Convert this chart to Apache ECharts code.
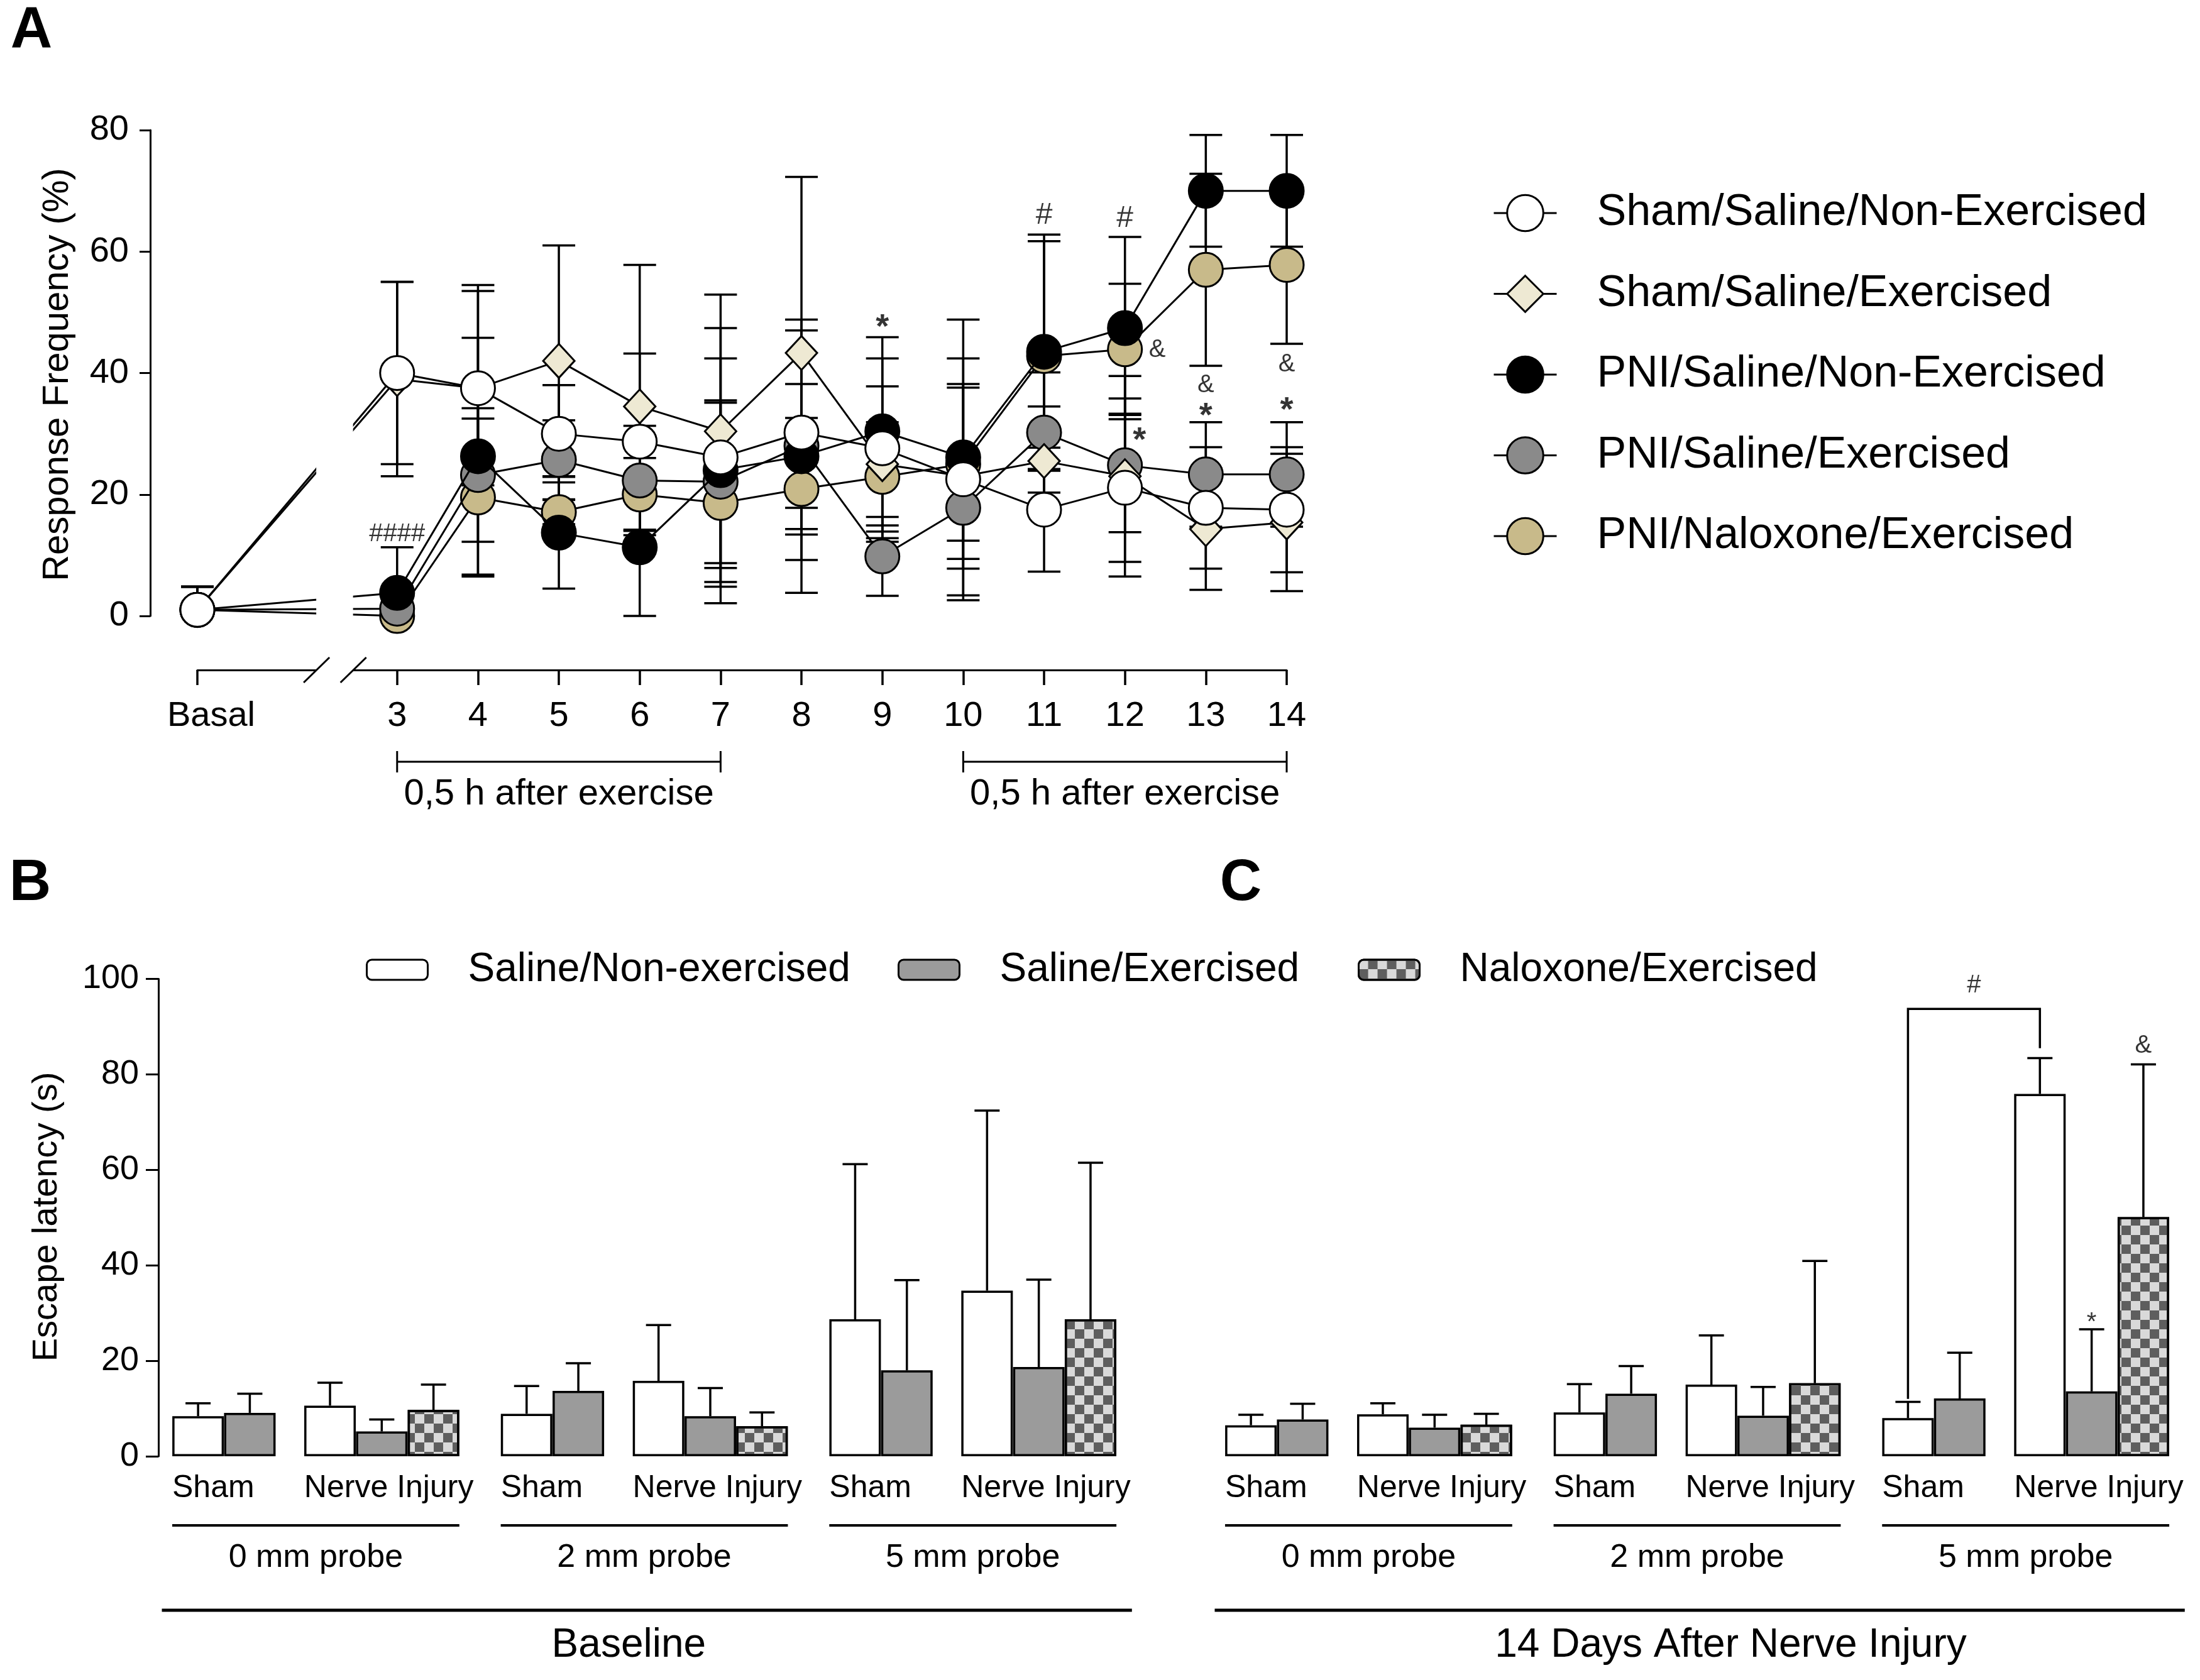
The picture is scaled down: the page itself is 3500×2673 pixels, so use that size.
<!DOCTYPE html>
<html><head><meta charset="utf-8">
<script src="https://cdn.jsdelivr.net/npm/echarts@6/dist/echarts.min.js"></script>
<style>html,body{margin:0;padding:0;background:#fff}#c{width:3500px;height:2673px}</style>
</head><body><div id="c"></div>
<script>
// ---------------- Panel A data ----------------
const dayLabels = ['Basal','3','4','5','6','7','8','9','10','11','12','13','14'];
const shamSalNonExMean = [1,40,37.5,30,28.7,26.1,30.2,27.6,22.5,17.5,21.1,17.8,17.5];
const shamSalNonExErr  = [3.8,15,17,8,14.5,21.3,16.8,14.8,19.9,10.2,12.2,10,10.3];
const shamSalExMean    = [1,39,37.5,42,34.5,30.4,43.3,25,23,25.5,23,14.3,15.4];
const shamSalExErr     = [3.8,16,16,19,23.3,22.5,29,12.8,15.2,9,16.5,10,11.3];
const pniSalNonExMean  = [1,3.8,26.3,13.7,11.3,24,26.3,30.4,26.1,43.5,47.4,70,70];
const pniSalNonExErr   = [3.8,7.5,19.5,9.2,11.3,18.4,22.5,15.5,22.7,19.3,15,9.2,9.2];
const pniSalExMean     = [1,1.2,23.2,25.7,22.3,22.1,28,9.8,17.8,30.2,24.8,23.3,23.3];
const pniSalExErr      = [3.8,2,11,6.5,9,13.4,10.2,6.5,8.4,9.9,11,8.6,8.6];
const pniNalExMean     = [1,0,19.5,17.1,20,18.6,20.9,22.9,25,42.8,43.9,57,57.8];
const pniNalExErr      = [3.8,1,13,2,6,16.5,11.7,9,12.6,18.9,10.8,15.8,13];
const annotA = [['####',3,13.5],['*',9,48.6],['#',11,66],['#',12,65.4],['&',12.4,43.8],['*',12.18,30],
  ['#',13,82],['#',14,82],['&',13,38],['*',13,34],['&',14,41.4],['*',14,35]];
const exerciseSpans = [[3,7],[10,14]];
const exerciseText = '0,5 h after exercise';

// ---------------- Panels B / C data ----------------
const groupNames = ['Sham','Nerve Injury'];
const probeNames = ['0 mm probe','2 mm probe','5 mm probe'];
const periodNames = ['Baseline','14 Days After Nerve Injury'];
// order: Sham 0mm, NI 0mm, Sham 2mm, NI 2mm, Sham 5mm, NI 5mm
const baseSalNonExMean = [8.4,10.6,8.9,15.8,28.7,34.7];
const baseSalNonExErr  = [2.7,4.8,5.8,11.7,32.5,37.7];
const baseSalExMean    = [9.1,5.2,13.7,8.4,18.0,18.7];
const baseSalExErr     = [4.0,2.5,5.8,5.9,18.9,18.3];
const baseNalExMean    = [9.7,6.3,28.7];   // nerve injury 0, 2, 5 mm
const baseNalExErr     = [5.3,2.9,32.8];
const d14SalNonExMean  = [6.5,8.8,9.2,15.0,8.0,75.9];
const d14SalNonExErr   = [2.2,2.3,5.9,10.3,3.4,7.5];
const d14SalExMean     = [7.7,6.0,13.1,8.5,12.1,13.6];
const d14SalExErr      = [3.3,2.7,5.8,6.0,9.6,13.0];
const d14NalExMean     = [6.6,15.3,50.1];
const d14NalExErr      = [2.3,25.6,32.0];

// ---------------- layout helpers ----------------
const FONT = '"Liberation Sans", Arial, Helvetica, sans-serif';
const BASAL_POS = 0.53, BREAK_FROM = 2.0, BREAK_TO = 2.455;
const dayPos = dayLabels.map((d,i)=> i===0 ? BASAL_POS : Number(d));
const X_OFF_A = 86;
const SHAM_GAP = 0.55, PROBE_GAP = 0.8, PERIOD_GAP = 2.1;
function barX(period, idx, t){
  const probe = Math.floor(idx/2), group = idx % 2;
  const probeW = 5 + SHAM_GAP;
  const periodW = 3*probeW + 2*PROBE_GAP;
  let x = period*(periodW + PERIOD_GAP) + probe*(probeW + PROBE_GAP);
  if (group === 1) x += 2 + SHAM_GAP;
  return x + t + 0.5;
}

const seriesDefA = [
  {name:'Sham/Saline/Non-Exercised', mean:shamSalNonExMean, err:shamSalNonExErr, symbol:'circle', size:54, fill:'#ffffff', z:10},
  {name:'Sham/Saline/Exercised', mean:shamSalExMean, err:shamSalExErr, symbol:'diamond', size:[50,54], fill:'#EEE9D3', z:8},
  {name:'PNI/Saline/Non-Exercised', mean:pniSalNonExMean, err:pniSalNonExErr, symbol:'circle', size:54, fill:'#000000', z:9},
  {name:'PNI/Saline/Exercised', mean:pniSalExMean, err:pniSalExErr, symbol:'circle', size:54, fill:'#8A8A8A', z:7},
  {name:'PNI/Naloxone/Exercised', mean:pniNalExMean, err:pniNalExErr, symbol:'circle', size:54, fill:'#C8BA8A', z:6},
];

function errA(params, api){
  const x=api.value(0), m=api.value(1), e=api.value(2);
  const hi=api.coord([x,m+e]), lo=api.coord([x,Math.max(0,m-e)]);
  const c=26, st={stroke:'#000', lineWidth:3.5};
  return {type:'group', children:[
    {type:'line', shape:{x1:hi[0],y1:hi[1],x2:lo[0],y2:lo[1]}, style:st},
    {type:'line', shape:{x1:hi[0]-c,y1:hi[1],x2:hi[0]+c,y2:hi[1]}, style:st},
    {type:'line', shape:{x1:lo[0]-c,y1:lo[1],x2:lo[0]+c,y2:lo[1]}, style:st}]};
}
function errBC(params, api){
  const x=api.value(0), m=api.value(1), e=api.value(2);
  const b=api.coord([x,m]), t=api.coord([x,m+e]);
  const c=20, st={stroke:'#000', lineWidth:3.5};
  return {type:'group', children:[
    {type:'line', shape:{x1:b[0],y1:b[1],x2:t[0],y2:t[1]}, style:st},
    {type:'line', shape:{x1:t[0]-c,y1:t[1],x2:t[0]+c,y2:t[1]}, style:st}]};
}

const series = [];
seriesDefA.forEach((s,k)=>{
  series.push({name:'errA'+k, type:'custom', xAxisIndex:0, yAxisIndex:0, z:1, renderItem:errA,
    data: dayPos.map((x,i)=>[x, s.mean[i], s.err[i]])});
  series.push({name:s.name, type:'line', xAxisIndex:0, yAxisIndex:0, z:s.z, clip:false,
    symbol:s.symbol, symbolSize:s.size,
    itemStyle:{color:s.fill, borderColor:'#000', borderWidth:3},
    lineStyle:{color:'#000', width:3},
    emphasis:{disabled:true},
    data: dayPos.map((x,i)=>[x, s.mean[i]])});
});
series.push({name:'annotA', type:'scatter', xAxisIndex:0, yAxisIndex:0, z:20, symbolSize:1,
  itemStyle:{color:'rgba(0,0,0,0)'},
  label:{show:true, position:'inside', color:'#000', fontFamily:FONT, formatter:p=>p.data.t},
  data: annotA.map(([t,x,y])=>({value:[x,y], t:t,
    label: t==='*' ? {fontSize:54, fontWeight:'bold', offset:[0,12]} : (t==='#' ? {fontSize:48} : {fontSize:40})}))});

// B/C bars
const bcDefs = [
  {name:'Saline/Non-exercised', means:[baseSalNonExMean,d14SalNonExMean], errs:[baseSalNonExErr,d14SalNonExErr], t:0, color:'#ffffff'},
  {name:'Saline/Exercised', means:[baseSalExMean,d14SalExMean], errs:[baseSalExErr,d14SalExErr], t:1, color:'#9B9B9B'},
  {name:'Naloxone/Exercised', means:[baseNalExMean,d14NalExMean], errs:[baseNalExErr,d14NalExErr], t:2, color:'#D9D9D9'},
];
bcDefs.forEach((d,k)=>{
  const pts = [], errs = [];
  [0,1].forEach(p=>{
    d.means[p].forEach((v,i)=>{
      const idx = d.t===2 ? 2*i+1 : i;
      const x = barX(p, idx, d.t);
      pts.push([x, v]); errs.push([x, v, d.errs[p][i]]);
    });
  });
  const itemStyle = {color:d.color, borderColor:'#000', borderWidth:3.5};
  if (d.t===2) itemStyle.decal = {symbol:'rect', symbolSize:1, color:'#5E5E5E',
    dashArrayX:[[15,15],[0,15,15,0]], dashArrayY:[15,0], rotation:0};
  series.push({name:d.name, type:'bar', xAxisIndex:1, yAxisIndex:1, barWidth:82, barGap:'-100%', z:3,
    itemStyle, emphasis:{disabled:true}, data:pts});
  series.push({name:'errBC'+k, type:'custom', xAxisIndex:1, yAxisIndex:1, z:4, renderItem:errBC, data:errs});
});
// bracket in C (Sham 5mm vs Nerve injury 5mm, saline non-exercised)
const bracketC = [[barX(1,4,0), barX(1,5,0), 12, 93.7, 85.5]];
series.push({name:'bracketC', type:'custom', xAxisIndex:1, yAxisIndex:1, z:5, data:bracketC,
  renderItem:(p,api)=>{
    const a=api.coord([api.value(0),api.value(2)]), b=api.coord([api.value(0),api.value(3)]);
    const c=api.coord([api.value(1),api.value(3)]), d=api.coord([api.value(1),api.value(4)]);
    return {type:'polyline', shape:{points:[a,b,c,d]}, style:{stroke:'#000', fill:null, lineWidth:3.5}};
  }});
const annotC = [['#', (barX(1,4,0)+barX(1,5,0))/2, 98.6], ['*', barX(1,5,1), 29], ['&', barX(1,5,2), 86]];
series.push({name:'annotC', type:'scatter', xAxisIndex:1, yAxisIndex:1, z:20, symbolSize:1,
  itemStyle:{color:'rgba(0,0,0,0)'},
  label:{show:true, position:'inside', color:'#000', fontFamily:FONT, fontSize:40, formatter:p=>p.data.t},
  data: annotC.map(([t,x,y])=>({value:[x,y], t:t, label: t==='*'?{offset:[0,8]}:{}}))});

const axisLineStyle = {color:'#000', width:3};
const legendBase = {orient:'horizontal', padding:0, itemWidth:97, itemHeight:32, selectedMode:false, top:1511,
  itemStyle:{borderWidth:3, borderColor:'#000'},
  textStyle:{fontSize:64, lineHeight:64, fontFamily:FONT, color:'#000', padding:[0,0,0,59]}};

const option = {
  animation:false,
  backgroundColor:'#fff',
  textStyle:{fontFamily:FONT},
  grid:[
    {left:314, right:1453, top:207, bottom:1693},
    {left:252, right:16, top:1557.5, bottom:356}
  ],
  xAxis:[
    {type:'value', gridIndex:0, min:BASAL_POS, max:14, offset:X_OFF_A, position:'bottom',
      axisLine:{show:true, onZero:false, lineStyle:axisLineStyle},
      axisTick:{show:true, length:24, customValues:dayPos, lineStyle:{color:'#000', width:3.5}},
      axisLabel:{show:true, customValues:dayPos, fontSize:56, color:'#000', fontFamily:FONT, margin:46,
        formatter:v=> v<2 ? '{b|'+dayLabels[0]+'}' : String(Math.round(v)),
        rich:{b:{fontSize:56, color:'#000', fontFamily:FONT, padding:[0,0,0,44]}}},
      splitLine:{show:false}},
    {type:'value', gridIndex:1, min:-0.267, max:39, show:false}
  ],
  yAxis:[
    {type:'value', gridIndex:0, min:0, max:80, interval:20, offset:75,
      axisLine:{show:true, onZero:false, lineStyle:axisLineStyle},
      axisTick:{show:true, length:17, lineStyle:axisLineStyle},
      axisLabel:{fontSize:56, color:'#000', fontFamily:FONT, margin:34},
      splitLine:{show:false}},
    {type:'value', gridIndex:1, min:0, max:100, interval:20,
      axisLine:{show:true, onZero:false, lineStyle:axisLineStyle},
      axisTick:{show:true, length:20, lineStyle:axisLineStyle},
      axisLabel:{fontSize:54, color:'#000', fontFamily:FONT, margin:31},
      splitLine:{show:false}}
  ],
  legend:[
    {data:seriesDefA.map(s=>s.name), orient:'vertical', left:2375, top:304, padding:0,
      itemWidth:100, itemHeight:72, itemGap:58.5, selectedMode:false,
      itemStyle:{borderWidth:3, borderColor:'#000'}, lineStyle:{color:'#000', width:3},
      textStyle:{fontSize:70, lineHeight:70, fontFamily:FONT, color:'#000', padding:[0,0,0,59]}},
    Object.assign({}, legendBase, {data:[bcDefs[0].name], left:582}),
    Object.assign({}, legendBase, {data:[bcDefs[1].name], left:1428}),
    Object.assign({}, legendBase, {data:[bcDefs[2].name], left:2160})
  ],
  series
};

const chart = echarts.init(document.getElementById('c'));
chart.setOption(option);

const P = (g,x,y)=>chart.convertToPixel({gridIndex:g},[x,y]);
const G = [];
function txt(text, x, y, size, opts){
  opts = opts || {};
  const align = opts.align || 'center';
  return {type:'text', x:x, y:y, rotation:opts.rotation||0, z:opts.z||50,
    style:{text, x:0, y:0, font:(opts.weight||'normal')+' '+size+'px '+FONT, fill:'#000',
      align, textAlign:align, verticalAlign:'middle', textVerticalAlign:'middle'}};
}
function ln(x1,y1,x2,y2,w,z){
  return {type:'line', z:z||50, shape:{x1,y1,x2,y2}, style:{stroke:'#000', lineWidth:w}};
}
// panel letters
G.push(txt('A',50,50,92,{weight:'bold'}));
G.push(txt('B',48,1407,92,{weight:'bold'}));
G.push(txt('C',1974,1407,92,{weight:'bold'}));
// axis titles
G.push(txt('Response Frequency (%)',92,596,58,{rotation:Math.PI/2}));
G.push(txt('Escape latency (s)',75,1936,56,{rotation:Math.PI/2}));
// axis break in A
const axisY = P(0,BASAL_POS,0)[1] + X_OFF_A;
const gl = P(0,BREAK_FROM,0)[0], gr = P(0,BREAK_TO,0)[0];
G.push({type:'rect', z:100, shape:{x:gl, y:150, width:gr-gl, height:axisY+10-150}, style:{fill:'#fff'}});
[gl,gr].forEach(cx=>G.push(ln(cx-20,axisY+20,cx+21,axisY-20,3,101)));
// exercise brackets
exerciseSpans.forEach(([a,b])=>{
  const x1=P(0,a,0)[0], x2=P(0,b,0)[0], y=1212;
  G.push(ln(x1,y,x2,y,3)); G.push(ln(x1,y-17,x1,y+17,3)); G.push(ln(x2,y-17,x2,y+17,3));
  G.push(txt(exerciseText,(x1+x2)/2,1264,58));
});
// B/C category structure
[0,1].forEach(p=>{
  for (let idx=0; idx<6; idx++){
    const x = P(1, barX(p,idx,0)-0.5, 0)[0];
    G.push(txt(groupNames[idx%2], x, 2368, 50, {align:'left'}));
  }
  for (let k=0;k<3;k++){
    const x1 = P(1, barX(p,2*k,0)-0.5, 0)[0], x2 = P(1, barX(p,2*k+1,2)+0.5, 0)[0];
    G.push(ln(x1,2427,x2,2427,4));
    G.push(txt(probeNames[k],(x1+x2)/2,2479,52));
  }
  const x1 = P(1, barX(p,0,0)-0.7, 0)[0], x2 = P(1, barX(p,5,2)+0.8, 0)[0];
  G.push(ln(x1,2562,x2,2562,5));
  const shift = p===0 ? -0.3 : 0.65;
  G.push(txt(periodNames[p], P(1,(barX(p,0,0)+barX(p,5,2))/2+shift,0)[0], 2618, 64));
});
chart.setOption({graphic:G});
</script>
</body></html>
